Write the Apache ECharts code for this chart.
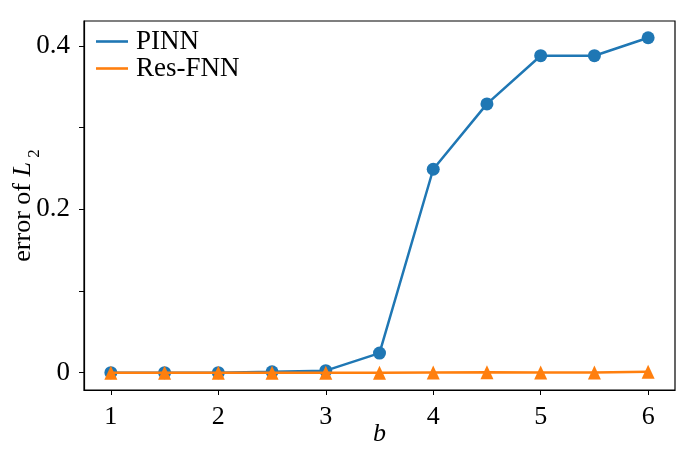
<!DOCTYPE html>
<html>
<head>
<meta charset="utf-8">
<script src="https://cdn.jsdelivr.net/npm/echarts@6/dist/echarts.min.js"></script>
<style>
  html, body { margin: 0; padding: 0; background: #fff; }
  #chart { width: 700px; height: 454px; }
</style>
</head>
<body>
<div id="chart"></div>
<script>
// b values on the x axis
const bValues = [1, 1.5, 2, 2.5, 3, 3.5, 4, 4.5, 5, 5.5, 6];
// L2 error
const pinnErr = [0, 0, 0, 0.001, 0.0025, 0.024, 0.249, 0.329, 0.388, 0.388, 0.410];
const resFnnErr = [0, 0, 0, 0, 0, 0, 0.0003, 0.0005, 0.0003, 0.0002, 0.001];
// ticks
const xTicks = [1, 2, 3, 4, 5, 6];
const yTicks = [0, 0.1, 0.2, 0.3, 0.4];
const yLabels = [0, 0.2, 0.4];

const FONT = 'Liberation Serif';

const toPairs = (xs, ys) => xs.map((x, i) => [x, ys[i]]);

const chart = echarts.init(document.getElementById('chart'), null, { renderer: 'canvas' });

chart.setOption({
  backgroundColor: '#fff',
  animation: false,
  textStyle: { fontFamily: FONT },
  grid: {
    left: 84, top: 21, right: 25, bottom: 64,
    containLabel: false,
    outerBoundsMode: 'none',
    show: true, borderColor: '#000', borderWidth: 1.2, backgroundColor: 'transparent'
  },
  legend: {
    orient: 'vertical',
    left: 96, top: 28,
    padding: 0,
    icon: 'rect',
    itemWidth: 32, itemHeight: 2.6,
    itemGap: 0,
    textStyle: { fontFamily: FONT, fontSize: 27, lineHeight: 27, color: '#000', padding: [0, 0, 0, 3] },
    data: ['PINN', 'Res-FNN']
  },
  xAxis: {
    type: 'value',
    min: 0.75, max: 6.25,
    name: 'b',
    nameLocation: 'middle',
    nameGap: 31,
    nameMoveOverlap: false,
    nameTextStyle: { fontFamily: FONT, fontSize: 26, fontStyle: 'italic', color: '#000' },
    axisLine: { show: true, onZero: false, lineStyle: { color: '#000', width: 1.2 } },
    axisTick: { show: true, length: 5, lineStyle: { color: '#000' }, customValues: xTicks },
    axisLabel: { fontFamily: FONT, fontSize: 26, color: '#000', margin: 14, customValues: xTicks },
    splitLine: { show: false }
  },
  yAxis: {
    type: 'value',
    min: -0.0212, max: 0.4305,
    name: '{n|error of }{i|L}{s| 2}',
    nameLocation: 'middle',
    nameRotate: 90,
    nameGap: 47,
    nameMoveOverlap: false,
    nameTextStyle: {
      fontFamily: FONT, color: '#000',
      rich: {
        n: { fontFamily: FONT, fontSize: 26, color: '#000', lineHeight: 28 },
        i: { fontFamily: FONT, fontSize: 26, fontStyle: 'italic', color: '#000', lineHeight: 28 },
        s: { fontFamily: FONT, fontSize: 17, color: '#000', lineHeight: 28, verticalAlign: 'bottom', padding: [0, 0, -6, 0] }
      }
    },
    axisLine: { show: true, lineStyle: { color: '#000', width: 1.2 } },
    axisTick: { show: true, length: 5, lineStyle: { color: '#000' }, customValues: yTicks },
    axisLabel: {
      fontFamily: FONT, fontSize: 27, color: '#000', margin: 14,
      customValues: yLabels,
      formatter: v => (v === 0 ? '0' : v.toFixed(1))
    },
    splitLine: { show: false }
  },
  series: [
    {
      name: 'PINN',
      type: 'line',
      data: toPairs(bValues, pinnErr),
      color: '#1f77b4',
      lineStyle: { width: 2.5, color: '#1f77b4' },
      symbol: 'circle',
      symbolSize: 13,
      itemStyle: { color: '#1f77b4' },
      z: 2
    },
    {
      name: 'Res-FNN',
      type: 'line',
      data: toPairs(bValues, resFnnErr),
      color: '#ff7f0e',
      lineStyle: { width: 2.5, color: '#ff7f0e' },
      symbol: 'triangle',
      symbolSize: [13, 14],
      itemStyle: { color: '#ff7f0e' },
      z: 3
    }
  ]
});
</script>
</body>
</html>
